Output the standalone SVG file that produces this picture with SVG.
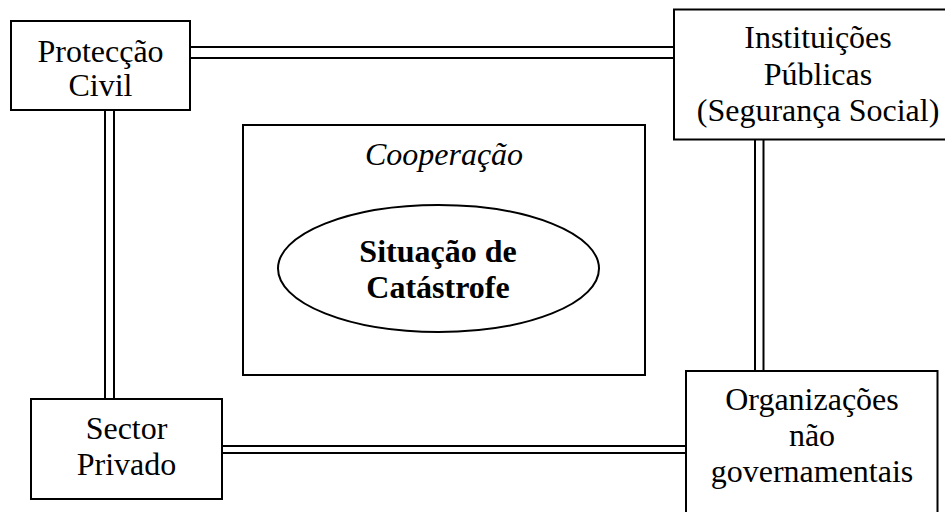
<svg xmlns="http://www.w3.org/2000/svg" width="945" height="512" viewBox="0 0 945 512">
<style>
.box{fill:#fff;stroke:#000;stroke-width:2}
.ln{stroke:#000;stroke-width:2;fill:none}
text{font-family:"Liberation Serif","Times New Roman",serif;font-size:32px;fill:#000;text-anchor:middle}
.it{font-style:italic}
.b{font-weight:bold}
</style>
<rect width="945" height="512" fill="#fff"/>
<g id="connectors">
<line class="ln" x1="190" y1="47" x2="674" y2="47"/>
<line class="ln" x1="190" y1="58" x2="674" y2="58"/>
<line class="ln" x1="105" y1="110" x2="105" y2="399"/>
<line class="ln" x1="114" y1="110" x2="114" y2="399"/>
<line class="ln" x1="755" y1="139" x2="755" y2="371"/>
<line class="ln" x1="763.5" y1="139" x2="763.5" y2="371"/>
<line class="ln" x1="222" y1="446" x2="686" y2="446"/>
<line class="ln" x1="222" y1="453" x2="686" y2="453"/>
</g>
<g id="cooperacao">
<rect class="box" x="243" y="125" width="402" height="250"/>
<text class="it" x="444" y="165">Cooperação</text>
</g>
<g id="situacao">
<ellipse class="box" cx="438.5" cy="268.5" rx="160.5" ry="63.5"/>
<text class="b" x="438" y="262">Situação de</text>
<text class="b" x="438" y="298">Catástrofe</text>
</g>
<g id="proteccao">
<rect class="box" x="11" y="21" width="179" height="89"/>
<text x="100.5" y="62">Protecção</text>
<text x="100.5" y="96">Civil</text>
</g>
<g id="instituicoes">
<rect class="box" x="674" y="9.5" width="280" height="130"/>
<text x="818" y="48">Instituições</text>
<text x="818" y="85">Públicas</text>
<text x="818" y="121">(Segurança Social)</text>
</g>
<g id="sector">
<rect class="box" x="31" y="399" width="191" height="100"/>
<text x="126.5" y="439">Sector</text>
<text x="126.5" y="475">Privado</text>
</g>
<g id="organizacoes">
<rect class="box" x="686" y="371" width="251.5" height="160"/>
<text x="812" y="410">Organizações</text>
<text x="812" y="446">não</text>
<text x="812" y="482">governamentais</text>
</g>
</svg>
